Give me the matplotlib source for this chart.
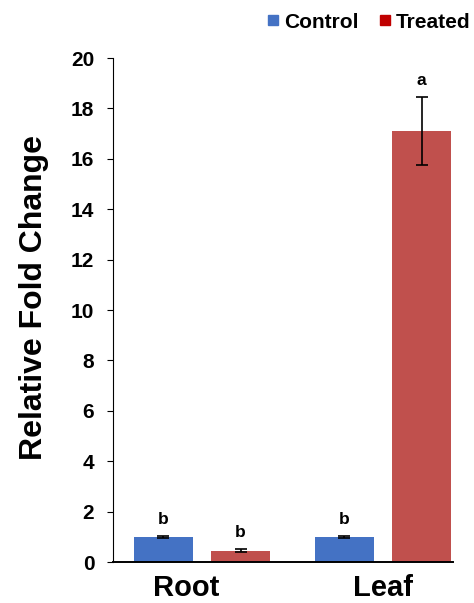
import matplotlib.pyplot as plt
import matplotlib.transforms as mtransforms
from matplotlib.lines import Line2D
import numpy as np

plt.rcParams['font.family'] = ['Liberation Sans', 'DejaVu Sans']
plt.rcParams['font.weight'] = 'bold'

tissues = ['Root', 'Leaf']
control = [1.0, 1.0]
control_err = [0.03, 0.03]
treated = [0.45, 17.1]
treated_err = [0.07, 1.35]
control_sig = ['b', 'b']
treated_sig = ['b', 'a']

fig = plt.figure(figsize=(4.74, 6.03), dpi=100)
# axis runs from x=113 to x=453 px, y from 562 to 58 px
ax = fig.add_axes([113 / 474, 41 / 603, 340 / 474, 504 / 603])

x = np.arange(len(tissues))
w = 0.33
off = 0.213
ekw = dict(ecolor='black', capsize=4, elinewidth=1.2, capthick=1.2)
ax.bar(x - off, control, w, color='#4472C4', yerr=control_err, error_kw=ekw)
ax.bar(x + off, treated, w, color='#C0504D', yerr=treated_err, error_kw=ekw)

# significance letters
for xi, v, e, s in zip(x - off, control, control_err, control_sig):
    ax.text(xi, v + e + 0.35, s, ha='center', va='bottom', fontsize=12.5, fontweight='bold')
for xi, v, e, s in zip(x + off, treated, treated_err, treated_sig):
    ax.text(xi, v + e + 0.35, s, ha='center', va='bottom', fontsize=12.5, fontweight='bold')

ax.set_xlim(-0.492, 1.387)
ax.set_ylim(0, 20)
ax.set_yticks(range(0, 21, 2))
ax.set_xticks(x)
ax.set_xticklabels(tissues, fontsize=21, fontweight='bold')
ax.tick_params(axis='x', length=0, pad=9)
ax.tick_params(axis='y', labelsize=15, length=4, direction='out', pad=9.5)
ax.set_ylabel('Relative Fold Change', fontsize=23, fontweight='bold', labelpad=16)
ax.yaxis.label.set_y(0.5 + 12 / 504)
ax.spines['top'].set_visible(False)
ax.spines['right'].set_visible(False)
ax.spines['bottom'].set_linewidth(1.4)

# Root label sits a bit left of its group in the original
shift = mtransforms.ScaledTranslation(-16 / 100, 0, fig.dpi_scale_trans)
lab = ax.get_xticklabels()[0]
lab.set_transform(lab.get_transform() + shift)

handles = [Line2D([], [], marker='s', linestyle='none', color='#4472C4', markersize=7),
           Line2D([], [], marker='s', linestyle='none', color='#C00000', markersize=7)]
fig.legend(handles, ['Control', 'Treated'], loc='upper right', bbox_to_anchor=(1.032, 1.01),
           ncol=2, frameon=False, fontsize=15, handletextpad=0.0, columnspacing=0.8,
           handlelength=1.0)

fig.savefig('out.png', dpi=100)
